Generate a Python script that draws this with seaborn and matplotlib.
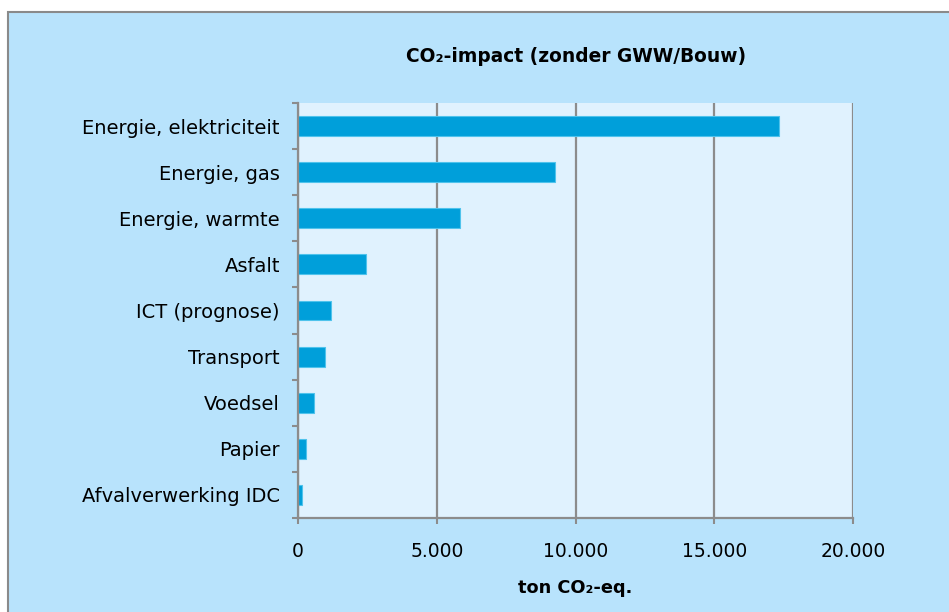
import numpy as np
import pandas as pd
import seaborn as sns
import matplotlib.pyplot as plt
import matplotlib.patches as mpatches
from matplotlib.ticker import FuncFormatter, FixedLocator

categories = ["Energie, elektriciteit", "Energie, gas", "Energie, warmte", "Asfalt",
              "ICT (prognose)", "Transport", "Voedsel", "Papier", "Afvalverwerking IDC"]
values = [17350, 9250, 5830, 2450, 1200, 970, 570, 280, 130]
x_ticks = [0, 5000, 10000, 15000, 20000]

df = pd.DataFrame({"cat": categories, "val": values})

sns.set_style("white")
plt.rcParams['font.family'] = ['DejaVu Sans']
plt.rcParams['text.color'] = 'black'

fig = plt.figure(figsize=(9.49, 6.12), dpi=100)
fig.patch.set_facecolor("white")
# light blue chart area with grey border
bg = mpatches.Rectangle((8 / 949, -0.01), 1.0, 1 - 12 / 612 + 0.01, transform=fig.transFigure,
                        facecolor="#b8e3fc", edgecolor="#8a8a8a", linewidth=1.5, zorder=-10)
fig.patches.append(bg)

ax = fig.add_axes([298 / 949, 1 - 518 / 612, (853 - 298) / 949, (518 - 103) / 612])
ax.set_facecolor("#e0f2fe")

sns.barplot(data=df, x="val", y="cat", orient="h", color="#009fda", saturation=1,
            width=0.43, edgecolor="#4fc3ec", linewidth=0.8, ax=ax)

ax.set_xlim(0, 20000)
ax.set_ylim(len(categories) - 0.5, -0.5)
ax.xaxis.set_major_locator(FixedLocator(x_ticks))
ax.xaxis.set_major_formatter(FuncFormatter(lambda v, p: f"{int(v):,}".replace(",", ".")))
ax.grid(axis="x", color="#8c8c8c", linewidth=1.6)
ax.set_axisbelow(True)

# tick marks between categories, labels centred
ax.set_yticks(np.arange(-0.5, len(categories), 1.0), minor=True)
ax.tick_params(axis="y", which="major", length=0, pad=13, labelsize=14, labelcolor="black")
ax.tick_params(axis="y", which="minor", length=4, width=1.5, color="#8c8c8c", direction="out", left=True)
ax.tick_params(axis="x", which="major", length=4, width=1.5, color="#8c8c8c", direction="out",
               pad=13.5, labelsize=13.5, labelcolor="black", bottom=True)

for s in ["top", "right"]:
    ax.spines[s].set_visible(False)
for s in ["left", "bottom"]:
    ax.spines[s].set_color("#8c8c8c")
    ax.spines[s].set_linewidth(1.6)

ax.set_ylabel("")
ax.set_xlabel("ton CO\u2082-eq.", fontsize=12.8, fontweight="bold", labelpad=13, color="black")
fig.text(576 / 949, 1 - 57 / 612, "CO\u2082-impact (zonder GWW/Bouw)", ha="center", va="center",
         fontsize=13.4, fontweight="bold", color="black")

fig.savefig("out.png", dpi=100)
